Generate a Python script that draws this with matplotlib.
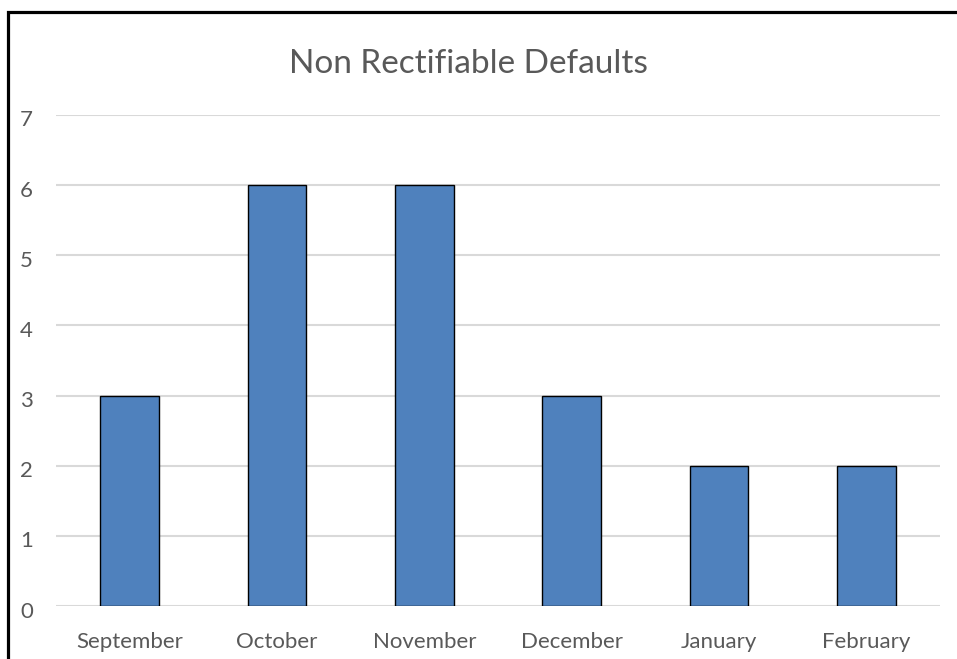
import matplotlib.pyplot as plt
from matplotlib.patches import Rectangle
from matplotlib.transforms import ScaledTranslation

months = ["September", "October", "November", "December", "January", "February"]
defaults = [3, 6, 6, 3, 2, 2]
y_ticks = [0, 1, 2, 3, 4, 5, 6, 7]

plt.rcParams['font.family'] = ['Lato', 'DejaVu Sans']

W, H = 957, 659
fig = plt.figure(figsize=(W / 100, H / 100), dpi=100)
ax = fig.add_axes([56 / W, 1 - 606 / H, (940 - 56) / W, (606 - 115) / H])

x = range(len(months))
ax.bar(x, defaults, width=0.4, color="#4f81bd", edgecolor="black", linewidth=1, zorder=3)

ax.set_xlim(-0.5, len(months) - 0.5)
ax.set_ylim(0, 7)
ax.set_yticks(y_ticks)
ax.set_xticks(list(x))
ax.set_xticklabels(months)
ax.grid(axis="y", color="#d9d9d9", linewidth=1.5, zorder=0)
for s in ax.spines.values():
    s.set_visible(False)
ax.tick_params(axis="both", length=0, labelsize=16, labelcolor="#595959")
ax.tick_params(axis="y", pad=16.5)
ax.tick_params(axis="x", pad=19)

# numbers sit a little below their gridline
shift = ScaledTranslation(0, -3.5 / 100, fig.dpi_scale_trans)
for lbl in ax.get_yticklabels():
    lbl.set_transform(lbl.get_transform() + shift)

fig.text(468 / W, 1 - 73 / H, "Non Rectifiable Defaults", ha="center", va="baseline",
         fontsize=24, color="#595959")

# black frame, cut off at right and bottom
fig.patches.append(Rectangle((8 / W, -0.1), 1.2, 1 - 12 / H + 0.1, transform=fig.transFigure,
                             fill=False, edgecolor="black", linewidth=2.3))

fig.savefig("out.png", dpi=100)
